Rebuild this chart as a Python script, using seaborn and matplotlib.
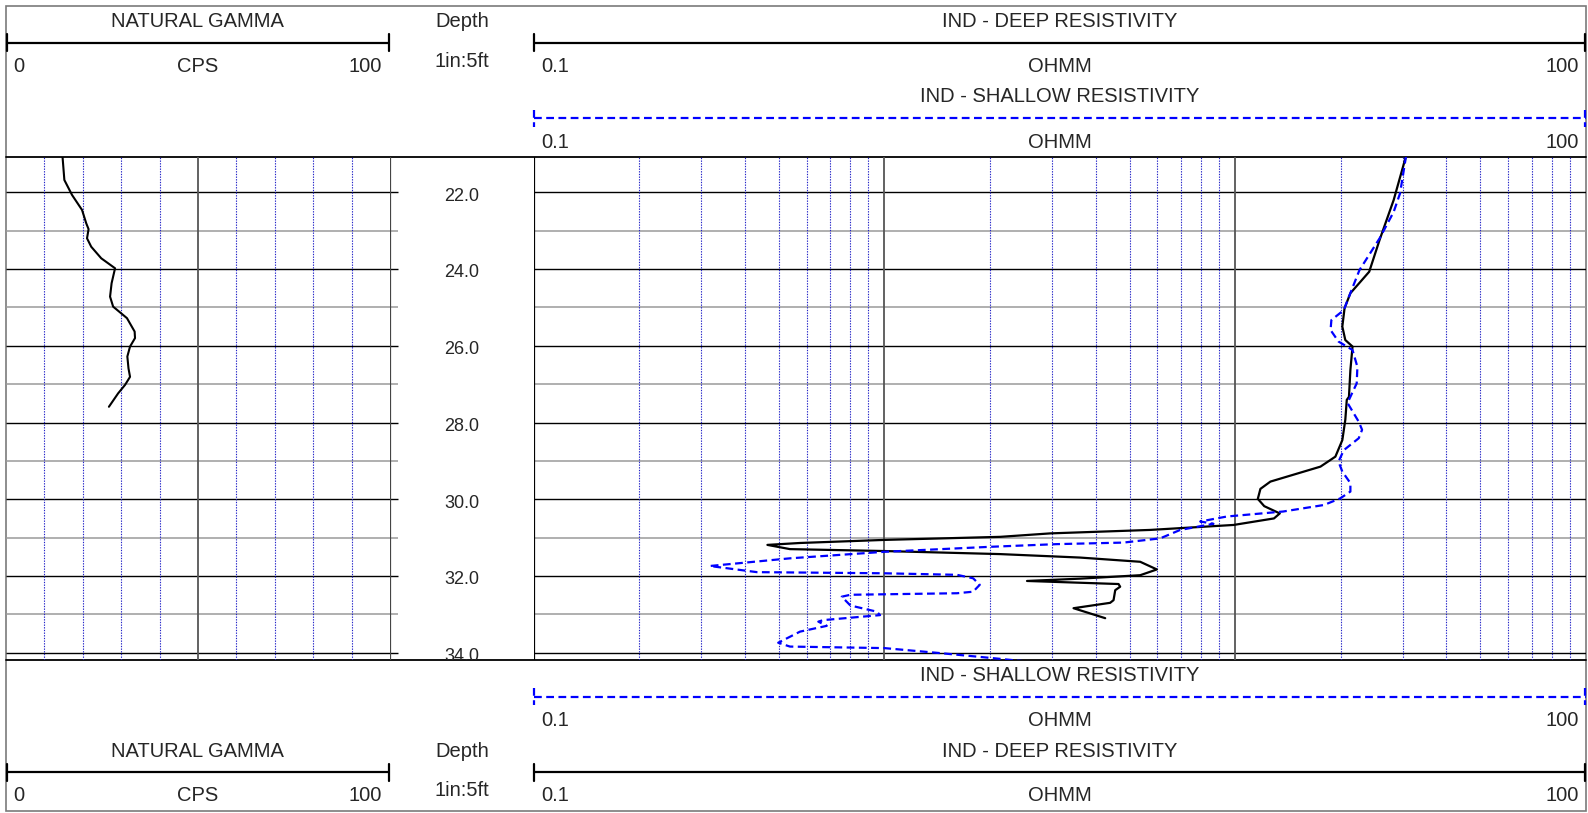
import matplotlib
matplotlib.use("Agg")
import matplotlib.pyplot as plt
import matplotlib.transforms as mtransforms
from matplotlib.patches import Rectangle
import seaborn as sns

# ---------------- data ----------------
gr_depth = [21.05, 21.68, 22.07, 22.46, 22.81, 22.96, 23.20, 23.42, 23.72, 23.98,
            24.37, 24.72, 24.98, 25.28, 25.63, 25.80, 26.02, 26.28, 26.59, 26.81,
            27.02, 27.24, 27.59]
gr_cps = [14.7, 15.2, 17.2, 19.8, 20.9, 21.5, 21.1, 22.2, 24.8, 28.4,
          27.5, 27.1, 27.9, 31.5, 33.5, 33.6, 32.3, 31.6, 31.9, 32.3,
          31.0, 29.2, 26.8]

deep_depth = [21.05, 22.20, 23.24, 24.07, 24.63, 25.02, 25.50, 25.85, 26.02, 26.63,
              27.33, 27.41, 27.93, 28.46, 28.89, 29.15, 29.54, 29.73, 29.99, 30.18,
              30.37, 30.50, 30.67, 30.80, 30.89, 30.98, 31.06, 31.14, 31.19, 31.30,
              31.35, 31.43, 31.52, 31.63, 31.83, 31.98, 32.07, 32.13, 32.21, 32.28,
              32.37, 32.63, 32.70, 32.84, 33.10]
deep_ohmm = [30.7, 28.3, 25.8, 24.1, 21.3, 20.5, 20.2, 20.6, 21.6, 21.3,
             21.1, 20.8, 20.6, 20.2, 19.3, 17.5, 12.6, 11.8, 11.6, 12.1,
             13.4, 12.9, 9.9, 5.72, 2.97, 2.14, 1.00, 0.575, 0.464, 0.538,
             1.00, 2.14, 3.61, 5.36, 5.98, 5.36, 3.61, 2.55, 4.65, 4.70,
             4.55, 4.50, 4.40, 3.46, 4.26]

shallow_depth = [21.05, 22.03, 22.51, 23.20, 24.03, 24.72, 25.07, 25.33, 25.59, 25.89,
                 26.11, 26.55, 26.98, 27.49, 27.98, 28.19, 28.41, 28.72, 29.02, 29.28,
                 29.58, 29.80, 29.98, 30.15, 30.32, 30.45, 30.58, 30.64, 30.80, 31.02,
                 31.13, 31.17, 31.24, 31.37, 31.54, 31.74, 31.90, 31.93, 31.97, 32.06,
                 32.23, 32.41, 32.45, 32.49, 32.54, 32.77, 32.93, 33.02, 33.15, 33.19,
                 33.30, 33.45, 33.74, 33.84, 33.88, 34.01, 34.14, 34.29]
shallow_ohmm = [30.7, 29.5, 28.3, 25.8, 22.6, 21.1, 20.4, 18.8, 18.7, 19.7,
                21.6, 22.3, 22.2, 20.9, 22.5, 23.0, 22.5, 20.4, 19.7, 20.2,
                21.3, 21.3, 19.9, 17.9, 13.7, 9.47, 7.95, 8.67, 6.97, 6.11,
                4.80, 3.10, 2.00, 1.00, 0.538, 0.318, 0.433, 1.00, 1.61, 1.79,
                1.87, 1.79, 1.61, 0.80, 0.756, 0.80, 0.951, 0.972, 0.670, 0.648,
                0.685, 0.575, 0.498, 0.538, 1.00, 1.44, 2.03, 2.97]

depth_ticks = [22, 24, 26, 28, 30, 32, 34]
depth_labels = ["22.0", "24.0", "26.0", "28.0", "30.0", "32.0", "34.0"]
gr_min, gr_max = 0, 100
res_min, res_max = 0.1, 100
gr_title, gr_unit = "NATURAL GAMMA", "CPS"
deep_title, shallow_title, res_unit = "IND - DEEP RESISTIVITY", "IND - SHALLOW RESISTIVITY", "OHMM"
depth_title, depth_scale = "Depth", "1in:5ft"

# ---------------- style ----------------
sns.set_theme(style="white")
plt.rcParams['font.family'] = ['Liberation Sans', 'DejaVu Sans']

W, H = 1588, 813
fig = plt.figure(figsize=(W / 100, H / 100), dpi=100)

X_L, X_G, X_D, X_R = 6, 390, 533.6, 1586
Y_T, Y_B = 157, 660
D_TOP, D_BOT = 21.08, 34.19
BLUE = "#0000ff"
GRIDBLUE = "#2424c8"
FS = 14.5


def rect(x0, x1, y0, y1):
    return [x0 / W, 1 - y1 / H, (x1 - x0) / W, (y1 - y0) / H]


# background / header axes in pixel coordinates
ax0 = fig.add_axes([0, 0, 1, 1])
ax0.set_xlim(0, W)
ax0.set_ylim(H, 0)
ax0.axis("off")
ax0.add_patch(Rectangle((X_L, 6), X_R - X_L, 805, fill=False, ec="#7a7a7a", lw=1.2))
ax0.plot([X_L, X_R], [Y_T, Y_T], color="black", lw=1.3)
ax0.plot([X_L, X_R], [Y_B, Y_B], color="black", lw=1.3)


def scale_bar(x0, x1, y, color, dashed=False):
    ls = (0, (3.5, 2.0)) if dashed else "-"
    ax0.plot([x0, x1], [y, y], color=color, lw=1.6, ls=ls, solid_capstyle="butt")
    for xx in (x0 + 0.8, x1 - 0.8):
        ax0.plot([xx, xx], [y - 8.5, y + 8.5], color=color, lw=1.6, ls=ls)


def header(y_title, y_bar, y_lab, x0, x1, title, unit, lo, hi, color="black", dashed=False):
    xc = (x0 + x1) / 2
    ax0.text(xc, y_title, title, ha="center", va="center", fontsize=FS)
    scale_bar(x0, x1, y_bar, color, dashed)
    ax0.text(x0 + 7.5, y_lab, lo, ha="left", va="center", fontsize=FS)
    ax0.text(xc, y_lab, unit, ha="center", va="center", fontsize=FS)
    ax0.text(x1 - 7.5, y_lab, hi, ha="right", va="center", fontsize=FS)


xd = (X_G + X_D) / 2
# top header
header(21.7, 42.7, 66.7, X_L, 389.5, gr_title, gr_unit, str(gr_min), str(gr_max))
header(21.7, 42.7, 66.7, X_D, X_R, deep_title, res_unit, str(res_min), str(res_max))
header(96.7, 118.3, 142.7, X_D, X_R, shallow_title, res_unit, str(res_min), str(res_max),
       color=BLUE, dashed=True)
ax0.text(xd, 21.7, depth_title, ha="center", va="center", fontsize=FS)
ax0.text(xd, 61.7, depth_scale, ha="center", va="center", fontsize=FS)
# bottom header
header(675.5, 696.7, 720.0, X_D, X_R, shallow_title, res_unit, str(res_min), str(res_max),
       color=BLUE, dashed=True)
header(751.7, 772.3, 795.0, X_L, 389.5, gr_title, gr_unit, str(gr_min), str(gr_max))
header(751.7, 772.3, 795.0, X_D, X_R, deep_title, res_unit, str(res_min), str(res_max))
ax0.text(xd, 751.7, depth_title, ha="center", va="center", fontsize=FS)
ax0.text(xd, 790.0, depth_scale, ha="center", va="center", fontsize=FS)

# ---------------- tracks ----------------
axg = fig.add_axes(rect(X_L, X_G, Y_T, Y_B))
axd = fig.add_axes(rect(X_G, X_D, Y_T, Y_B))
axr = fig.add_axes(rect(X_D, X_R, Y_T, Y_B))
for a in (axg, axd, axr):
    a.set_facecolor("none")
    for s in a.spines.values():
        s.set_visible(False)
    a.set_ylim(D_BOT, D_TOP)

axg.set_xlim(gr_min, gr_max)
axr.set_xscale("log")
axr.set_xlim(res_min, res_max)
axd.set_xlim(0, 1)

feet = list(range(22, 35))
ext = 8 / ((X_G - X_L) / (gr_max - gr_min))
for d in feet:
    even = d % 2 == 0
    col = "black" if even else "#9a9a9a"
    lw = 1.0 if even else 1.1
    axg.hlines(d, gr_min, gr_max + ext, color=col, lw=lw, clip_on=False, zorder=1)
    axr.axhline(d, color=col, lw=lw, zorder=1)

# gamma verticals
for v in range(10, 100, 10):
    if v == 50:
        axg.axvline(v, color="#555555", lw=1.3, zorder=1)
    else:
        axg.axvline(v, color=GRIDBLUE, lw=0.8, ls=(0, (1.2, 1.2)), zorder=1)

# resistivity verticals
for dec in (0.1, 1, 10):
    for k in range(2, 10):
        axr.axvline(k * dec, color=GRIDBLUE, lw=0.8, ls=(0, (1.2, 1.2)), zorder=1)
for dec in (1, 10):
    axr.axvline(dec, color="#555555", lw=1.3, zorder=1)

# track borders
axd.axvline(0, color="#444444", lw=1.6, zorder=3)
axr.axvline(res_min, color="black", lw=1.6, zorder=3)

# curves
sns.lineplot(x=gr_cps, y=gr_depth, sort=False, estimator=None, color="black",
             lw=1.5, ax=axg, zorder=4)
sns.lineplot(x=deep_ohmm, y=deep_depth, sort=False, estimator=None, color="black",
             lw=1.6, ax=axr, zorder=4)
sns.lineplot(x=shallow_ohmm, y=shallow_depth, sort=False, estimator=None, color=BLUE,
             lw=1.6, linestyle=(0, (3.5, 2.0)), ax=axr, zorder=5)

for a in (axg, axd, axr):
    a.set_xlabel("")
    a.set_ylabel("")
    a.set_xticks([])
    a.set_xticks([], minor=True)
    a.set_yticks([])
    a.set_ylim(D_BOT, D_TOP)
axg.set_xlim(gr_min, gr_max)
axr.set_xlim(res_min, res_max)
axd.set_xlim(0, 1)

# depth labels
trans = mtransforms.blended_transform_factory(axd.transAxes, axd.transData)
for d, lab in zip(depth_ticks, depth_labels):
    axd.text(0.5, d + 0.1, lab, transform=trans, ha="center", va="center",
             fontsize=13, clip_on=True)

fig.savefig("out.png", dpi=100)
